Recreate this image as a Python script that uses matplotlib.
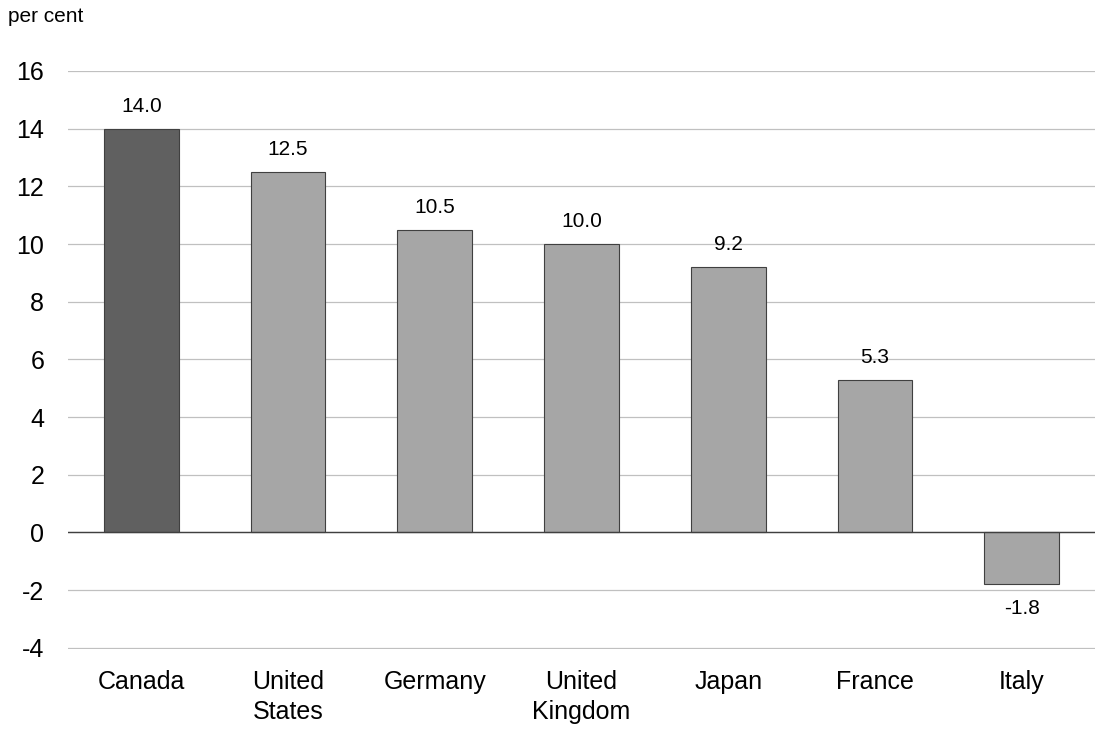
import matplotlib
matplotlib.use("Agg")
import matplotlib.pyplot as plt

# data
countries = ["Canada", "United\nStates", "Germany", "United\nKingdom", "Japan", "France", "Italy"]
values = [14.0, 12.5, 10.5, 10.0, 9.2, 5.3, -1.8]
colors = ["#606060", "#a6a6a6", "#a6a6a6", "#a6a6a6", "#a6a6a6", "#a6a6a6", "#a6a6a6"]
yticks = [-4, -2, 0, 2, 4, 6, 8, 10, 12, 14, 16]

plt.rcParams['font.family'] = ['Liberation Sans', 'DejaVu Sans']

fig = plt.figure(figsize=(11, 7.31), dpi=100)
ax = fig.add_axes([0.0618, 0.1122, 0.9337, 0.7907])

x = list(range(len(countries)))
ax.bar(x, values, width=0.51, color=colors, edgecolor="#404040", linewidth=0.8, zorder=3)

# value labels above / below bars
for xi, v in zip(x, values):
    if v >= 0:
        ax.text(xi, v + 0.45, f"{v:.1f}", ha="center", va="bottom", fontsize=15)
    else:
        ax.text(xi, v - 0.5, f"{v:.1f}", ha="center", va="top", fontsize=15)

ax.set_xlim(-0.5, 6.5)
ax.set_ylim(-4.04, 16)
ax.set_yticks(yticks)
ax.set_yticklabels([str(t) for t in yticks], fontsize=18)
ax.set_xticks(x)
ax.set_xticklabels(countries, fontsize=18, linespacing=1.3)
ax.tick_params(axis="both", length=0)
ax.tick_params(axis="y", pad=17)
ax.tick_params(axis="x", pad=15)

ax.grid(axis="y", color="#c0c0c0", linewidth=0.9, zorder=0)
ax.axhline(0, color="#404040", linewidth=1.0, zorder=4)
for s in ax.spines.values():
    s.set_visible(False)

fig.text(0.007, 0.978, "per cent", fontsize=15, ha="left", va="center")

fig.savefig("out.png", dpi=100)
